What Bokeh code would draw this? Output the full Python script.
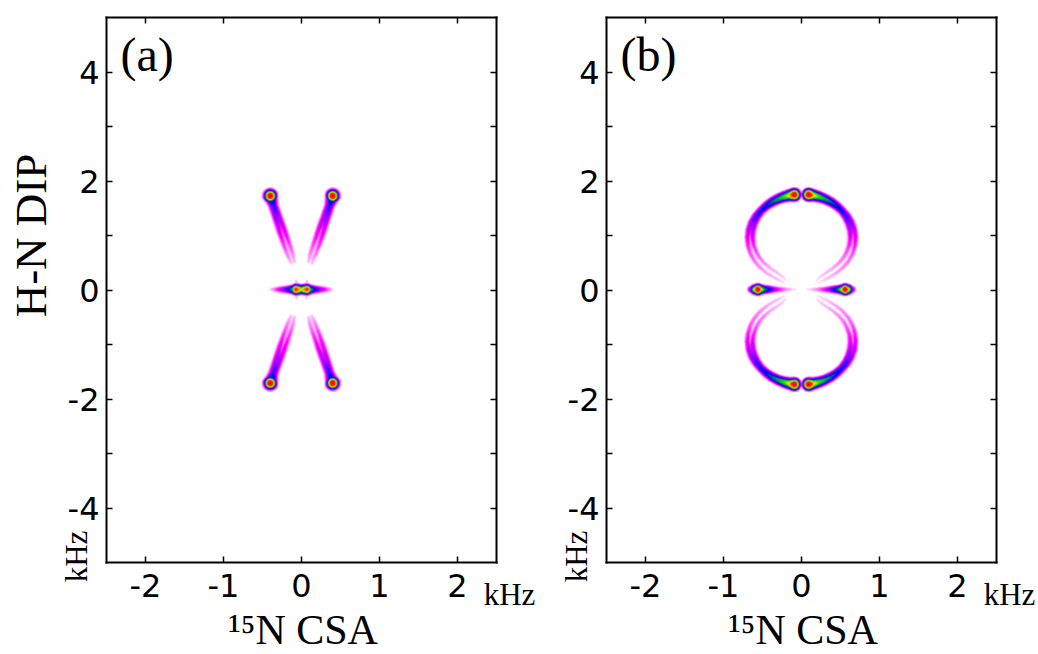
import numpy as np
from bokeh.plotting import figure
from bokeh.models import Range1d, LinearAxis, FixedTicker, Label, LogColorMapper
from bokeh.layouts import row
from bokeh.embed import file_html
from bokeh.resources import INLINE

# ---------------- axes / tick data ----------------
x_ticks = [-2, -1, 0, 1, 2]
y_ticks = [-4, -2, 0, 2, 4]
y_minor = [-3, -1, 1, 3]
x_lim = (-2.5, 2.5)
y_lim = (-5.0, 5.0)
tick_text = {-4: "-4", -2: "-2", -1: "-1", 0: "0", 1: "1", 2: "2", 4: "4"}

# ---------------- spectrum features ----------------
# Panel (a): arm ridge, outer tip -> inner end (first quadrant, mirrored to the others)
a_arm_x = [0.40, 0.385, 0.36, 0.31, 0.25, 0.19, 0.14, 0.11]
a_arm_y = [1.71, 1.65, 1.53, 1.32, 1.07, 0.82, 0.62, 0.49]
a_arm_amp = [0.50, 0.30, 0.22, 0.17, 0.14, 0.11, 0.085, 0.065]
a_arm_lw = [4.2, 4.0, 3.6, 3.0, 2.7, 2.5, 2.4, 2.2]
a_arm_split = [0, 0, 0, 3, 5, 5.5, 5, 3.5]
# arm tip peaks
a_tip_x = [0.40]
a_tip_y = [1.71]
a_tip_amp = [1.0]
a_tip_lw = [3.4]
# horizontal ridge at zero dipolar coupling (right half, mirrored)
a_hor_x = [0.0, 0.07, 0.12, 0.17, 0.24, 0.31, 0.37, 0.41]
a_hor_amp = [0.50, 0.80, 0.38, 0.25, 0.17, 0.12, 0.08, 0.05]
a_hor_lw = [2.9, 2.9, 2.8, 2.7, 2.6, 2.5, 2.3, 2.1]
# weak vertical bars at the central peaks
a_bar_x = [0.065, 0.065]
a_bar_y = [-0.15, 0.15]
a_bar_amp = [0.07, 0.07]
a_bar_lw = [1.9, 1.9]

# Panel (b): upper-right quarter of the loop, from top centre downwards
b_loop_x = [0.023, 0.092, 0.160, 0.226, 0.300, 0.379, 0.450, 0.520, 0.577, 0.620,
            0.650, 0.660, 0.650, 0.620, 0.572, 0.506, 0.424, 0.330, 0.250, 0.200]
b_loop_y = [1.740, 1.732, 1.717, 1.692, 1.654, 1.597, 1.528, 1.436, 1.333, 1.220,
            1.087, 0.950, 0.813, 0.680, 0.555, 0.442, 0.345, 0.262, 0.190, 0.140]
b_loop_amp = [0.12, 1.00, 0.55, 0.45, 0.38, 0.32, 0.28, 0.24, 0.21, 0.18,
              0.16, 0.14, 0.12, 0.105, 0.095, 0.085, 0.075, 0.068, 0.06, 0.052]
b_loop_lw = [2.8, 3.3, 3.3, 3.2, 3.1, 3.1, 3.0, 3.0, 2.9, 2.8,
             2.7, 2.5, 2.4, 2.3, 2.2, 2.2, 2.1, 2.0, 1.9, 1.8]
b_loop_split = [0, 0, 0, 0, 0, 0, 0, 0, 1.5, 3,
                4, 5, 5.5, 6, 6, 6, 6, 5.5, 4.5, 3]
# horizontal ridge (right half, mirrored)
b_hor_x = [0.06, 0.12, 0.20, 0.28, 0.35, 0.40, 0.47, 0.52, 0.56, 0.60, 0.65, 0.69]
b_hor_amp = [0.05, 0.06, 0.085, 0.12, 0.17, 0.24, 0.35, 0.55, 1.00, 0.55, 0.18, 0.06]
b_hor_lw = [2.2, 2.2, 2.3, 2.4, 2.5, 2.6, 2.7, 2.8, 2.9, 2.8, 2.6, 2.3]

# ---------------- layout (pixels) ----------------
FRAME_W, FRAME_H = 390, 545
KX = FRAME_W / (x_lim[1] - x_lim[0])      # px per kHz
KY = FRAME_H / (y_lim[1] - y_lim[0])
TOP, BOTTOM = 17, 92

# ---------------- rasterisation ----------------
IMG_X0, IMG_X1 = -1.0, 1.0
IMG_Y0, IMG_Y1 = -2.2, 2.2
NX = int(round((IMG_X1 - IMG_X0) * KX))
NY = int(round((IMG_Y1 - IMG_Y0) * KY))
gx = IMG_X0 + (np.arange(NX) + 0.5) * (IMG_X1 - IMG_X0) / NX
gy = IMG_Y0 + (np.arange(NY) + 0.5) * (IMG_Y1 - IMG_Y0) / NY
GX, GY = np.meshgrid(gx, gy)
PX, PY = GX * KX, GY * KY


def seg_field(ax, ay, bx, by, ia, ib, wa, wb):
    vx, vy = bx - ax, by - ay
    L2 = vx * vx + vy * vy
    u = np.clip(((PX - ax) * vx + (PY - ay) * vy) / L2, 0, 1)
    dx = PX - (ax + u * vx)
    dy = PY - (ay + u * vy)
    w = wa + (wb - wa) * u
    return (ia + (ib - ia) * u) * np.exp(-(dx * dx + dy * dy) / (2 * w * w))


def ridge(xs, ys, amp, lw, split=None):
    px = np.asarray(xs, float) * KX
    py = np.asarray(ys, float) * KY
    if split is None:
        split = [0.0] * len(xs)
    out = np.zeros_like(PX)
    for k in range(len(px) - 1):
        vx, vy = px[k + 1] - px[k], py[k + 1] - py[k]
        L = np.hypot(vx, vy)
        nx, ny = -vy / L, vx / L
        for s in (-0.5, 0.5):
            oa, ob = s * split[k], s * split[k + 1]
            f = seg_field(px[k] + oa * nx, py[k] + oa * ny,
                          px[k + 1] + ob * nx, py[k + 1] + ob * ny,
                          amp[k], amp[k + 1], lw[k], lw[k + 1])
            out = np.maximum(out, f)
            if split[k] == 0 and split[k + 1] == 0:
                break
    return out


def peaks(xs, ys, amp, lw):
    out = np.zeros_like(PX)
    for x, y, a, w in zip(xs, ys, amp, lw):
        d2 = (PX - x * KX) ** 2 + (PY - y * KY) ** 2
        out = np.maximum(out, a * np.exp(-d2 / (2 * w * w)))
    return out


QUADS = [(1, 1), (-1, 1), (1, -1), (-1, -1)]


def field_a():
    f = np.zeros_like(PX)
    for sx, sy in QUADS:
        f = np.maximum(f, ridge([sx * v for v in a_arm_x], [sy * v for v in a_arm_y],
                                a_arm_amp, a_arm_lw, a_arm_split))
        f = np.maximum(f, peaks([sx * v for v in a_tip_x], [sy * v for v in a_tip_y],
                                a_tip_amp, a_tip_lw))
    for sx in (1, -1):
        f = np.maximum(f, ridge([sx * v for v in a_hor_x], [0.0] * len(a_hor_x),
                                a_hor_amp, a_hor_lw))
        f = np.maximum(f, ridge([sx * v for v in a_bar_x], a_bar_y, a_bar_amp, a_bar_lw))
    return f


def field_b():
    f = np.zeros_like(PX)
    for sx, sy in QUADS:
        f = np.maximum(f, ridge([sx * v for v in b_loop_x], [sy * v for v in b_loop_y],
                                b_loop_amp, b_loop_lw, b_loop_split))
    for sx in (1, -1):
        f = np.maximum(f, ridge([sx * v for v in b_hor_x], [0.0] * len(b_hor_x),
                                b_hor_amp, b_hor_lw))
    return f


# ---------------- colour map ----------------
stops = [(0.00, "#ffe0ff"), (0.10, "#ffb0ff"), (0.20, "#ff70ff"), (0.30, "#ff00ff"),
         (0.40, "#a000ff"), (0.48, "#4000ff"), (0.55, "#0000e0"), (0.62, "#0060a0"),
         (0.68, "#00b040"), (0.74, "#40e000"), (0.79, "#e0f000"), (0.84, "#ffa000"),
         (0.90, "#ff3000"), (1.00, "#ff0000")]


def hex2rgb(h):
    return [int(h[i:i + 2], 16) for i in (1, 3, 5)]


pal = []
ts = [s[0] for s in stops]
cs = np.array([hex2rgb(s[1]) for s in stops], float)
for t in np.linspace(0, 1, 256):
    rgb = [np.interp(t, ts, cs[:, c]) for c in range(3)]
    pal.append("#%02x%02x%02x" % tuple(int(round(v)) for v in rgb))

SERIF = "Liberation Serif"


def make_panel(field, tag, left, right, ylabel):
    width = left + FRAME_W + right
    height = TOP + FRAME_H + BOTTOM
    xr = Range1d(x_lim[0] - left / KX, x_lim[1] + right / KX)
    yr = Range1d(y_lim[0] - BOTTOM / KY, y_lim[1] + TOP / KY)
    p = figure(width=width, height=height, x_range=xr, y_range=yr,
               x_axis_location=None, y_axis_location=None,
               output_backend="svg", toolbar_location=None, min_border=0,
               background_fill_color="white", border_fill_color="white")
    p.grid.visible = False
    p.outline_line_color = None

    mapper = LogColorMapper(palette=pal, low=0.05, high=1.0,
                            low_color="white", high_color="#ff0000")
    p.image(image=[np.maximum(field, 1e-4)], x=IMG_X0, y=IMG_Y0,
            dw=IMG_X1 - IMG_X0, dh=IMG_Y1 - IMG_Y0, color_mapper=mapper)

    xt = FixedTicker(ticks=x_ticks, minor_ticks=[])
    yt = FixedTicker(ticks=y_ticks, minor_ticks=y_minor)
    specs = [("below", xt, y_lim[0], x_lim, True),
             ("above", xt, y_lim[1], x_lim, False),
             ("left", yt, x_lim[0], y_lim, True),
             ("right", yt, x_lim[1], y_lim, False)]
    for loc, tk, fixed, bnds, labelled in specs:
        ax = LinearAxis(ticker=tk, fixed_location=fixed, bounds=bnds,
                        major_tick_in=6, major_tick_out=0,
                        minor_tick_in=6, minor_tick_out=0,
                        major_tick_line_width=1.5, minor_tick_line_width=1.5,
                        axis_line_width=2, axis_line_cap="square",
                        major_label_overrides=tick_text,
                        major_label_text_font="DejaVu Sans",
                        major_label_text_font_size="32px",
                        major_label_text_color="black" if labelled else None,
                        major_label_standoff=11 if loc == "below" else 7)
        p.add_layout(ax, loc)

    def lab(x, y, text, size, angle=0.0, align="center", baseline="middle"):
        p.add_layout(Label(x=x, y=y, text=text, text_font=SERIF, text_font_size=size,
                           text_color="black", angle=angle, text_align=align,
                           text_baseline=baseline))

    # screen-pixel anchors converted to data units through the panel scales
    def dx(px):
        return x_lim[0] + (px - left) / KX

    def dy(py):
        return y_lim[1] - (py - TOP) / KY

    lab(dx(left + 14), dy(27), tag, "48px", align="left", baseline="top")
    lab(dx(left - 30), dy(556), "kHz", "31px", angle=np.pi / 2)
    lab(dx(left + FRAME_W + 13), dy(594), "kHz", "31px")
    lab(0.02, dy(629), "¹⁵N CSA", "42px")
    if ylabel:
        lab(dx(30), dy(235), ylabel, "45px", angle=np.pi / 2)
    return p


pa = make_panel(field_a(), "(a)", 106, 50, "H-N DIP")
pb = make_panel(field_b(), "(b)", 60, 42, None)

layout = row(pa, pb)
open("out.html", "w").write(file_html(layout, INLINE))
